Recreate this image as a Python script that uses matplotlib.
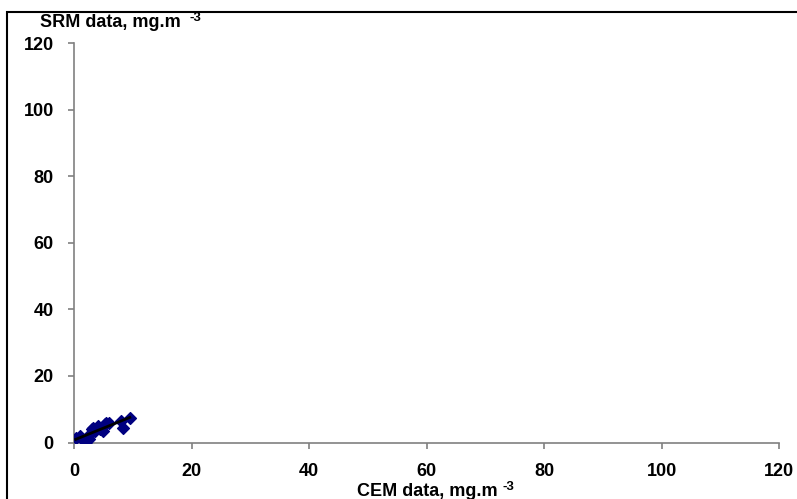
import numpy as np
import matplotlib.pyplot as plt
from matplotlib.patches import Rectangle

plt.rcParams['font.family'] = ['Liberation Sans', 'DejaVu Sans']

cem = [0.3, 1.0, 1.5, 2.0, 2.3, 2.5, 2.8, 3.0, 3.2, 3.5, 4.0, 4.5, 5.0, 5.3, 5.5, 6.0, 8.0, 8.3, 9.5]
srm = [1.3, 2.0, 0.8, 0.3, 1.5, 1.0, 2.5, 4.0, 4.5, 3.5, 5.0, 4.0, 3.5, 5.5, 6.0, 6.0, 6.5, 4.5, 7.5]
ticks = [0, 20, 40, 60, 80, 100, 120]

fig = plt.figure(figsize=(7.97, 4.99), dpi=100)
ax = fig.add_axes([74 / 797, 1 - 442.5 / 499, 705 / 797, 399.5 / 499])

# outer frame, cut by the right and bottom edges
fig.patches.append(Rectangle((7 / 797, -0.1), 1.2, 1 - 12 / 499 + 0.1, transform=fig.transFigure,
                             fill=False, edgecolor='black', linewidth=1.5))

ax.scatter(cem, srm, marker='D', s=36, color='#000080', zorder=3)
slope, icpt = np.polyfit(cem, srm, 1)
xs = np.array([min(cem), max(cem)])
ax.plot(xs, slope * xs + icpt, color='black', linewidth=2, zorder=4)

ax.set_xlim(0, 120)
ax.set_ylim(0, 120)
ax.set_xticks(ticks)
ax.set_yticks(ticks)
for s in ['top', 'right']:
    ax.spines[s].set_visible(False)
for s in ['left', 'bottom']:
    ax.spines[s].set_color('#808080')
    ax.spines[s].set_linewidth(1.2)
ax.tick_params(colors='#808080', length=4.5, width=1.2, labelcolor='black', labelsize=13)
ax.tick_params(axis='y', pad=10)
ax.tick_params(axis='x', pad=10)
for lab in ax.get_xticklabels() + ax.get_yticklabels():
    lab.set_fontweight('bold')

ty = fig.text(40 / 797, 1 - 22.5 / 499, 'SRM data, mg.m', fontsize=13, fontweight='bold', va='center', ha='left')
ax.annotate('-3', xy=(1, 1), xycoords=ty, xytext=(6, 1.5), textcoords='offset points',
            fontsize=9.5, fontweight='bold', va='top', ha='left', annotation_clip=False)
tx = fig.text(427 / 797, 1 - 492 / 499, 'CEM data, mg.m', fontsize=13, fontweight='bold', va='center', ha='center')
ax.annotate('-3', xy=(1, 1), xycoords=tx, xytext=(4, 1.5), textcoords='offset points',
            fontsize=9.5, fontweight='bold', va='top', ha='left', annotation_clip=False)

fig.savefig('out.png', dpi=100)
